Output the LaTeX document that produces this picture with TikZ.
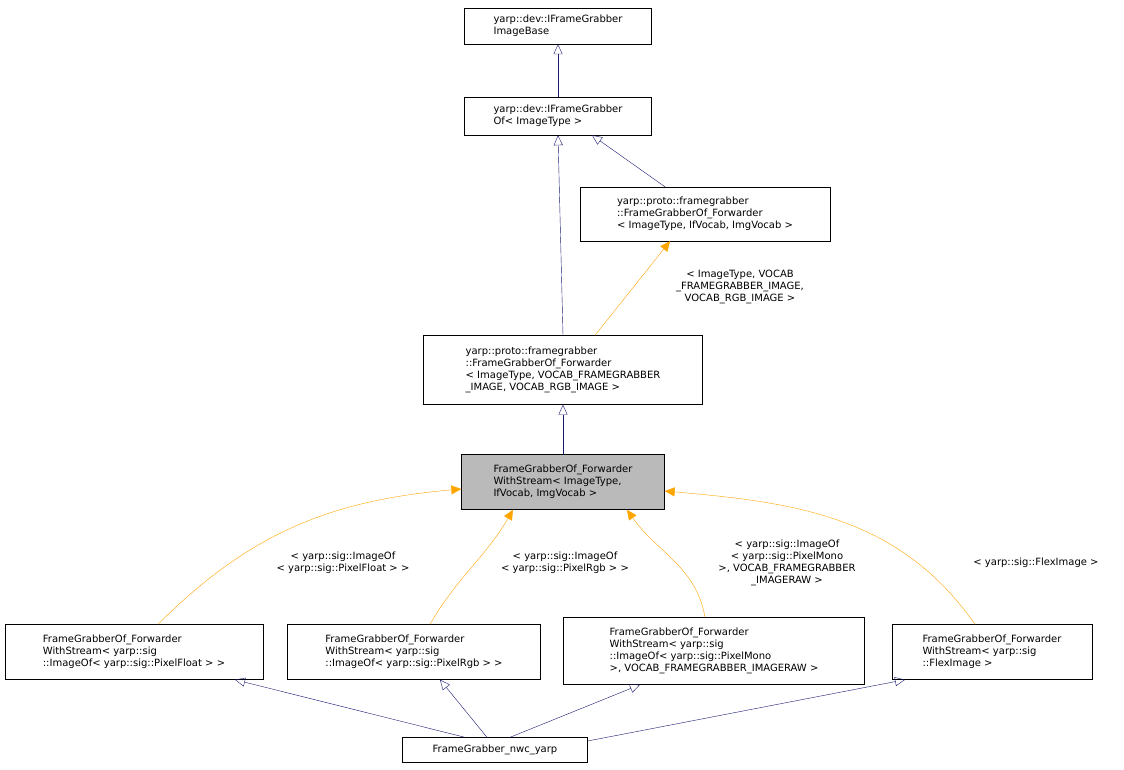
\documentclass[tikz,border=0pt]{standalone}
\usepackage{fontspec}
\setmainfont{DejaVu Sans}
\usepackage{tikz}
\usetikzlibrary{positioning,arrows.meta}
\definecolor{navy}{HTML}{191970}
\definecolor{tmpl}{HTML}{FFA500}
\tikzset{
  cls/.style   ={draw, inner sep=0pt, align=left, font=\fontsize{10}{12}\selectfont},
  inh/.style   ={navy, -{Triangle[open,length=10pt,width=9pt]}},
  tinh/.style  ={tmpl, -{Triangle[open,length=10pt,width=9pt,fill=tmpl]}},
  lbl/.style   ={align=center, font=\fontsize{10}{12}\selectfont}
}
\begin{document}
\begin{tikzpicture}[x=1pt,y=-1pt]
    \useasboundingbox (0,0) rectangle (1124,769);
    % interfaces
    \node[cls, minimum width=187pt, minimum height=36pt] (base) at (558,26) {yarp::dev::IFrameGrabber\\ImageBase};
    \node[cls, minimum width=187pt, minimum height=38pt] (iof) at (558,116) {yarp::dev::IFrameGrabber\\Of< ImageType >};
    \node[cls, minimum width=250pt, minimum height=54pt] (fwd) at (705,214) {yarp::proto::framegrabber\\::FrameGrabberOf\_Forwarder\\< ImageType, IfVocab, ImgVocab >};
    \node[cls, minimum width=279pt, minimum height=69pt] (fwdrgb) at (563,370) {yarp::proto::framegrabber\\::FrameGrabberOf\_Forwarder\\< ImageType, VOCAB\_FRAMEGRABBER\\\_IMAGE, VOCAB\_RGB\_IMAGE >};
    % stream class
    \node[cls, fill=black!27, minimum width=203pt, minimum height=55pt] (strm) at (563,482) {FrameGrabberOf\_Forwarder\\WithStream< ImageType,\\IfVocab, ImgVocab >};
    % specialisations
    \node[cls, minimum width=258pt, minimum height=55pt] (sfloat) at (134,652) {FrameGrabberOf\_Forwarder\\WithStream< yarp::sig\\::ImageOf< yarp::sig::PixelFloat > >};
    \node[cls, minimum width=253pt, minimum height=55pt] (srgb) at (414,652) {FrameGrabberOf\_Forwarder\\WithStream< yarp::sig\\::ImageOf< yarp::sig::PixelRgb > >};
    \node[cls, minimum width=301pt, minimum height=67pt] (smono) at (714,651) {FrameGrabberOf\_Forwarder\\WithStream< yarp::sig\\::ImageOf< yarp::sig::PixelMono\\ >, VOCAB\_FRAMEGRABBER\_IMAGERAW >};
    \node[cls, minimum width=200pt, minimum height=55pt] (sflex) at (992,652) {FrameGrabberOf\_Forwarder\\WithStream< yarp::sig\\::FlexImage >};
    \node[cls, minimum width=185pt, minimum height=25pt] (nwc) at (495,750) {FrameGrabber\_nwc\_yarp};
    % inheritance
    \draw[inh] (iof) -- (base);
    \draw[inh] (fwdrgb.north -| 563,0) -- (iof.south);
    \draw[inh] (fwd.north -| 665,0) -- (iof.south -| 592,0);
    \draw[tinh] (fwdrgb.north -| 595,0) -- (fwd.south -| 670,0);
    \draw[inh] (strm) -- (fwdrgb);
    % templated instances
    \draw[tinh] (sfloat.north -| 158,0) to[out=45,in=185] (strm.west |- 0,489);
    \draw[tinh] (srgb.north -| 430,0) to[out=60,in=240] (strm.south -| 513,0);
    \draw[tinh] (smono.north -| 705,0) to[out=100,in=-55] (strm.south -| 627,0);
    \draw[tinh] (sflex.north -| 975,0) to[out=125,in=-5] (strm.east |- 0,491);
    \node[lbl] (lfwd) at (740,287) {< ImageType, VOCAB\\\_FRAMEGRABBER\_IMAGE,\\VOCAB\_RGB\_IMAGE >};
    \node[lbl] (lfloat) at (343,563) {< yarp::sig::ImageOf\\< yarp::sig::PixelFloat > >};
    \node[lbl] (lrgb) at (565,563) {< yarp::sig::ImageOf\\< yarp::sig::PixelRgb > >};
    \node[lbl] (lmono) at (787,563) {< yarp::sig::ImageOf\\< yarp::sig::PixelMono\\>, VOCAB\_FRAMEGRABBER\\\_IMAGERAW >};
    \node[lbl] (lflex) at (1036,563) {< yarp::sig::FlexImage >};
    % leaf
    \draw[inh] (nwc.north -| 465,0) -- (sfloat.south -| 235,0);
    \draw[inh] (nwc.north -| 487,0) -- (srgb.south -| 440,0);
    \draw[inh] (nwc.north -| 510,0) -- (smono.south -| 640,0);
    \draw[inh] (nwc.east |- 0,741) -- (sflex.south -| 905,0);
  \end{tikzpicture}
\end{document}
